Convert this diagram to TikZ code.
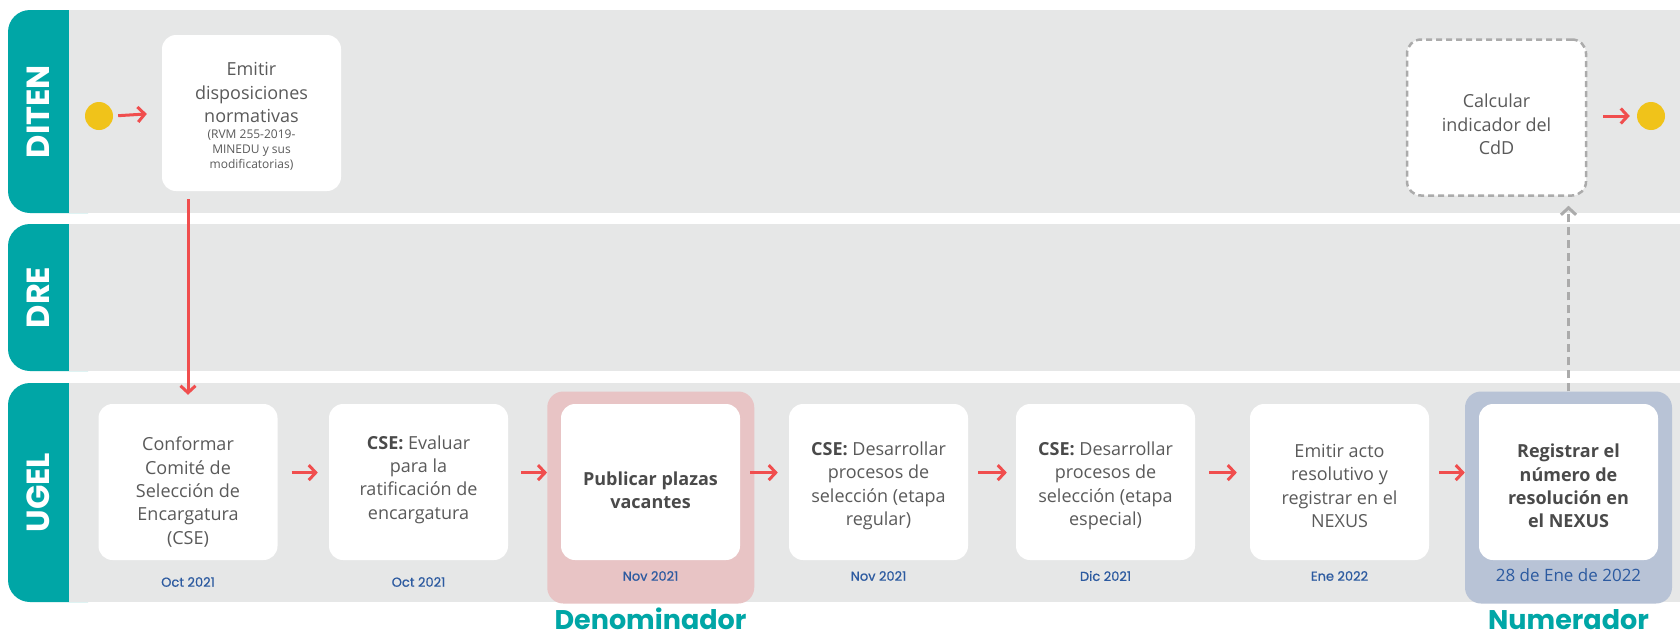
\documentclass[tikz,border=0pt]{standalone}
\usepackage{fontspec}
\setmainfont{Open Sans}
\newfontfamily\popfont{Poppins}
\newfontfamily\popmed[FakeBold=0.8]{Poppins}
\usetikzlibrary{arrows.meta}
\definecolor{lteal}{HTML}{00A6A6}
\definecolor{lgray}{HTML}{E6E7E7}
\definecolor{ared}{HTML}{F04E4E}
\definecolor{cyell}{HTML}{F0C31A}
\definecolor{fpink}{HTML}{E8C4C5}
\definecolor{fblue}{HTML}{B8C3D6}
\definecolor{dgray}{HTML}{ABABAB}
\definecolor{dblue}{HTML}{2C5AA0}
\definecolor{tgray}{HTML}{5A5A5A}
\definecolor{bgray}{HTML}{4A4A4A}
\begin{document}
\begin{tikzpicture}[x=1pt,y=-1pt,
  lanebar/.style={fill=lteal, rounded corners=22pt},
  laneback/.style={fill=lgray},
  lanelabel/.style={rotate=90, text=white, inner sep=0pt, font=\popfont\bfseries\fontsize{32}{32}\selectfont},
  taskbox/.style={rectangle, rounded corners=14pt, fill=white, minimum width=179pt, minimum height=156pt, inner sep=0pt},
  dashbox/.style={taskbox, draw=dgray, line width=2.5pt, dash pattern=on 6pt off 4pt},
  frame/.style={rectangle, rounded corners=16pt, minimum width=207pt, minimum height=212pt, inner sep=0pt},
  btext/.style={align=center, text=tgray, inner sep=0pt, font=\fontsize{18}{23.4}\selectfont},
  stext/.style={align=center, text=tgray, inner sep=0pt, font=\fontsize{12}{15}\selectfont},
  datet/.style={text=dblue, inner sep=0pt, font=\popmed\fontsize{13}{15}\selectfont},
  bigdate/.style={text=dblue, inner sep=0pt, font=\fontsize{17}{20}\selectfont},
  kpi/.style={anchor=base, text=lteal, inner sep=0pt, font=\popfont\bfseries\fontsize{27}{27}\selectfont},
  dot/.style={circle, fill=cyell, minimum size=28pt, inner sep=0pt},
  redarrow/.style={draw=ared, line width=3pt, -{Straight Barb[length=7pt,width=15pt]}},
  grayarrow/.style={draw=dgray, line width=3pt, dash pattern=on 8pt off 5pt, -{Straight Barb[length=7pt,width=15pt]}}
]
\useasboundingbox (0,0) rectangle (1680,635);
\fill[white] (0,0) rectangle (1680,635);
% lanes
\fill[lanebar] (8,10) rectangle (110,213);
\fill[lanebar] (8,224) rectangle (110,371);
\fill[lanebar] (8,383) rectangle (110,602);
\fill[laneback] (69,10) rectangle (1680,213);
\fill[laneback] (69,224) rectangle (1680,371);
\fill[laneback] (69,383) rectangle (1680,602);
\node[lanelabel] (ldi) at (38.5,111.5) {DITEN};
\node[lanelabel] (ldr) at (38.5,297.5) {DRE};
\node[lanelabel] (lug) at (38.5,492.5) {UGEL};
% highlight frames
\node[frame, fill=fpink] (f3) at (650.75,497.5) {};
\node[frame, fill=fblue] (f7) at (1568.5,497.5) {};
% start / end
\node[dot] (start) at (99,116) {};
\node[dot] (end) at (1651,116) {};
% DITEN boxes
\node[taskbox] (emitir) at (251.5,113) {};
\node[btext] (temitir) at (251.5,92.5) {Emitir\\disposiciones\\normativas};
\node[stext] (semitir) at (251.5,150.5) {(RVM 255-2019-\\MINEDU y sus\\modificatorias)};
\node[dashbox] (calc) at (1496.5,117.5) {};
\node[btext] (tcalc) at (1496.5,124.5) {Calcular\\indicador del\\CdD};
% UGEL boxes
\node[taskbox] (b1) at (188,482) {};
\node[taskbox] (b2) at (418.5,482) {};
\node[taskbox] (b3) at (650.5,482) {};
\node[taskbox] (b4) at (878.5,482) {};
\node[taskbox] (b5) at (1105.5,482) {};
\node[taskbox] (b6) at (1339.5,482) {};
\node[taskbox] (b7) at (1568.5,482) {};
\node[btext] (t1) at (188,492) {Conformar\\Comité de\\Selección de\\Encargatura\\(CSE)};
\node[btext] (t2) at (418.5,479.5) {\textcolor{bgray}{\textbf{CSE:}} Evaluar\\para la\\ratificación de\\encargatura};
\node[btext, text=bgray, font=\bfseries\fontsize{18}{23.4}\selectfont] (t3) at (650.5,490.5) {Publicar plazas\\vacantes};
\node[btext] (t4) at (878.5,486) {\textcolor{bgray}{\textbf{CSE:}} Desarrollar\\procesos de\\selección (etapa\\regular)};
\node[btext] (t5) at (1105.5,486) {\textcolor{bgray}{\textbf{CSE:}} Desarrollar\\procesos de\\selección (etapa\\especial)};
\node[btext] (t6) at (1339.5,486) {Emitir acto\\resolutivo y\\registrar en el\\NEXUS};
\node[btext, text=bgray, font=\bfseries\fontsize{18}{23.4}\selectfont] (t7) at (1568.5,486) {Registrar el\\número de\\resolución en\\el NEXUS};
% dates
\node[datet] (d1) at (188,582) {Oct 2021};
\node[datet] (d2) at (418.5,582) {Oct 2021};
\node[datet] (d3) at (650.5,576) {Nov 2021};
\node[datet] (d4) at (878.5,576) {Nov 2021};
\node[datet] (d5) at (1105.5,576) {Dic 2021};
\node[datet] (d6) at (1339.5,576) {Ene 2022};
\node[bigdate] (d7) at (1568.5,575) {28 de Ene de 2022};
% KPI labels
\node[kpi] (den) at (650.5,629) {Denominador};
\node[kpi] (num) at (1568.5,629) {Numerador};
% arrows
\draw[redarrow, shorten <=5pt, shorten >=15pt] (start.east) -- (emitir.west);
\draw[redarrow, shorten <=8pt, shorten >=9pt] (emitir.south -| b1.north) -- (b1.north);
\draw[redarrow, shorten <=14pt, shorten >=11pt] ([yshift=9.4pt]b1.east) -- ([yshift=9.4pt]b2.west);
\draw[redarrow, shorten <=13pt, shorten >=0pt] ([yshift=9.4pt]b2.east) -- ([yshift=9.4pt]b2.east -| f3.west);
\draw[redarrow, shorten <=10pt, shorten >=11pt] ([yshift=9.4pt]b3.east) -- ([yshift=9.4pt]b4.west);
\draw[redarrow, shorten <=10pt, shorten >=9pt] ([yshift=9.4pt]b4.east) -- ([yshift=9.4pt]b5.west);
\draw[redarrow, shorten <=14pt, shorten >=13pt] ([yshift=9.4pt]b5.east) -- ([yshift=9.4pt]b6.west);
\draw[redarrow, shorten <=10pt, shorten >=0pt] ([yshift=9.4pt]b6.east) -- ([yshift=9.4pt]b6.east -| f7.west);
\draw[redarrow, shorten <=16pt, shorten >=7pt] (calc.east |- end.west) -- (end.west);
\draw[grayarrow, shorten >=9pt] (f7.north) -- (calc.south -| f7.north);
\end{tikzpicture}
\end{document}
